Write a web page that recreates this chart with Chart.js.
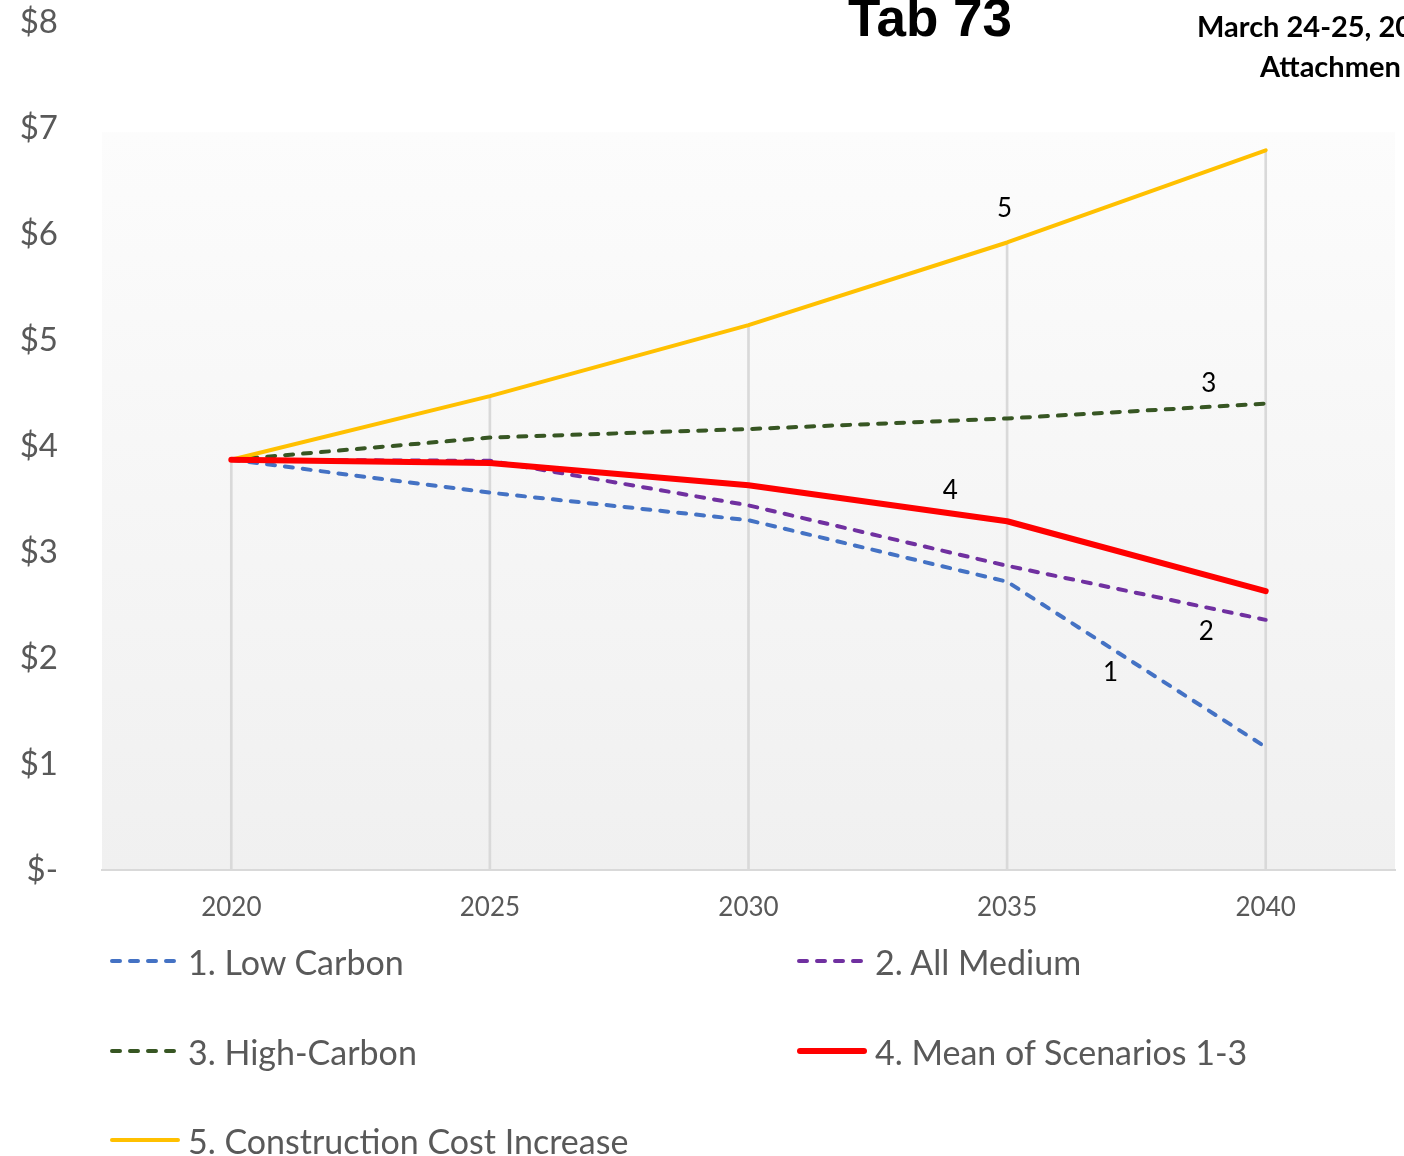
<!DOCTYPE html>
<html><head><meta charset="utf-8">
<script src="https://cdn.jsdelivr.net/npm/chart.js@4"></script>
<style>
html,body{margin:0;padding:0;background:#fff;overflow:hidden;width:1404px;height:1156px;}
#wrap{position:relative;width:1404px;height:1156px;overflow:hidden;}
#c{position:absolute;left:0;top:0;}
.hdr{position:absolute;white-space:nowrap;color:#000;line-height:1;}
#title{left:848px;top:-13px;font:bold 53px "Liberation Sans",Arial,sans-serif;}
#date{left:1197px;top:8px;font:bold 29px Lato,sans-serif;}
#att{left:1260px;top:48px;font:bold 29px Lato,sans-serif;}
.li{position:absolute;display:flex;align-items:center;height:34px;line-height:34px;font:34px Lato,sans-serif;color:#595959;white-space:nowrap;}
.li svg{display:block;}
</style></head>
<body>
<div id="wrap">
<canvas id="c" width="1404" height="1156"></canvas>
<div class="hdr" id="title">Tab 73</div>
<div class="hdr" id="date">March 24-25, 20</div>
<div class="hdr" id="att">Attachmen</div>
<div id="legend"></div>
</div>
<script>
// ---- data ----
const categories = ['2020','2025','2030','2035','2040'];
const seriesNames = ['1. Low Carbon','2. All Medium','3. High-Carbon','4. Mean of Scenarios 1-3','5. Construction Cost Increase'];
const lowCarbon        = [3.87, 3.56, 3.30, 2.72, 1.16];
const allMedium        = [3.87, 3.86, 3.44, 2.87, 2.36];
const highCarbon       = [3.87, 4.08, 4.16, 4.26, 4.40];
const meanScenarios    = [3.87, 3.84, 3.63, 3.29, 2.63];
const constructionCost = [3.87, 4.47, 5.14, 5.92, 6.79];
const yTickValues = [0,1,2,3,4,5,6,7,8];
const tagLabels = ['5','3','4','2','1'];
const tagIndex  = [2.99, 3.78, 2.78, 3.77, 3.40];
const tagValue  = [6.24, 4.59, 3.58, 2.25, 1.86];

const allSeries = [lowCarbon, allMedium, highCarbon, meanScenarios, constructionCost];
const styles = [
  {color:'#4472C4', width:4, dash:[8,10], order:5},
  {color:'#7030A0', width:4, dash:[8,10], order:4},
  {color:'#375623', width:4, dash:[8,10], order:3},
  {color:'#FF0000', width:6, dash:[],     order:1},
  {color:'#FFC000', width:4, dash:[],     order:2}
];
const dropValues = categories.map((_, i) => Math.max(...allSeries.map(s => s[i])));

const bgPlugin = {
  id: 'bg',
  beforeDraw(chart) {
    const {ctx, chartArea: a, scales: {y}} = chart;
    const top = y.getPixelForValue(6.96);
    const g = ctx.createLinearGradient(0, top, 0, a.bottom);
    g.addColorStop(0, '#fcfcfc');
    g.addColorStop(1, '#f0f0f0');
    ctx.save();
    ctx.fillStyle = g;
    ctx.fillRect(a.left, top, a.right - a.left, a.bottom - top);
    ctx.restore();
  }
};
const tagPlugin = {
  id: 'tags',
  afterDatasetsDraw(chart) {
    const {ctx, scales: {x, y}} = chart;
    ctx.save();
    ctx.fillStyle = '#000';
    ctx.font = '26px Lato';
    ctx.textAlign = 'center';
    ctx.textBaseline = 'middle';
    tagLabels.forEach((t, k) => {
      ctx.fillText(t, x.getPixelForValue(tagIndex[k]), y.getPixelForValue(tagValue[k]));
    });
    ctx.restore();
  }
};

function build() {
  Chart.defaults.font.family = 'Lato';
  const datasets = allSeries.map((s, i) => ({
    type: 'line',
    label: seriesNames[i],
    data: s,
    borderColor: styles[i].color,
    backgroundColor: styles[i].color,
    borderWidth: styles[i].width,
    borderDash: styles[i].dash,
    borderCapStyle: 'round',
    borderJoinStyle: 'round',
    pointRadius: 0,
    tension: 0,
    fill: false,
    order: styles[i].order
  }));
  datasets.push({
    type: 'bar',
    label: 'drop',
    data: dropValues,
    backgroundColor: '#d9d9d9',
    barThickness: 2,
    order: 10
  });
  new Chart(document.getElementById('c'), {
    data: {labels: categories, datasets},
    options: {
      responsive: false,
      animation: false,
      layout: {padding: {left: 0, right: 9, top: 22, bottom: 226}},
      plugins: {legend: {display: false}, tooltip: {enabled: false}},
      scales: {
        x: {
          type: 'category',
          offset: true,
          grid: {display: false, drawTicks: false},
          border: {display: true, color: '#d9d9d9', width: 2},
          ticks: {color: '#595959', font: {size: 26}, padding: 22, maxRotation: 0},
          afterFit(s) { s.height = 60; }
        },
        y: {
          min: 0, max: 8,
          grid: {display: false, drawTicks: true, tickLength: 44},
          border: {display: false},
          afterBuildTicks(s) { s.ticks = yTickValues.map(v => ({value: v})); },
          ticks: {
            color: '#595959', font: {size: 33}, padding: 0,
            callback: v => v === 0 ? '$-' : '$' + v
          },
          afterFit(s) { s.width = 102; }
        }
      }
    },
    plugins: [bgPlugin, tagPlugin]
  });

  // legend
  const leg = document.getElementById('legend');
  const colX = [110, 797];
  const rowY = [961, 1051, 1140];
  seriesNames.forEach((name, i) => {
    const st = styles[i];
    const d = document.createElement('div');
    d.className = 'li';
    d.style.left = colX[i % 2] + 'px';
    d.style.top = (rowY[Math.floor(i / 2)] - 17) + 'px';
    const dash = st.dash.length ? ` stroke-dasharray="${st.dash.join(' ')}"` : '';
    d.innerHTML = `<svg width="78" height="12"><line x1="${st.width/2}" y1="6" x2="${70 - st.width/2}" y2="6" stroke="${st.color}" stroke-width="${st.width}" stroke-linecap="round"${dash}/></svg><span>${name}</span>`;
    leg.appendChild(d);
  });
}
if (document.fonts && document.fonts.load) {
  Promise.all([document.fonts.load('33px Lato'), document.fonts.load('bold 29px Lato')]).then(build, build);
} else build();
</script>
</body></html>
